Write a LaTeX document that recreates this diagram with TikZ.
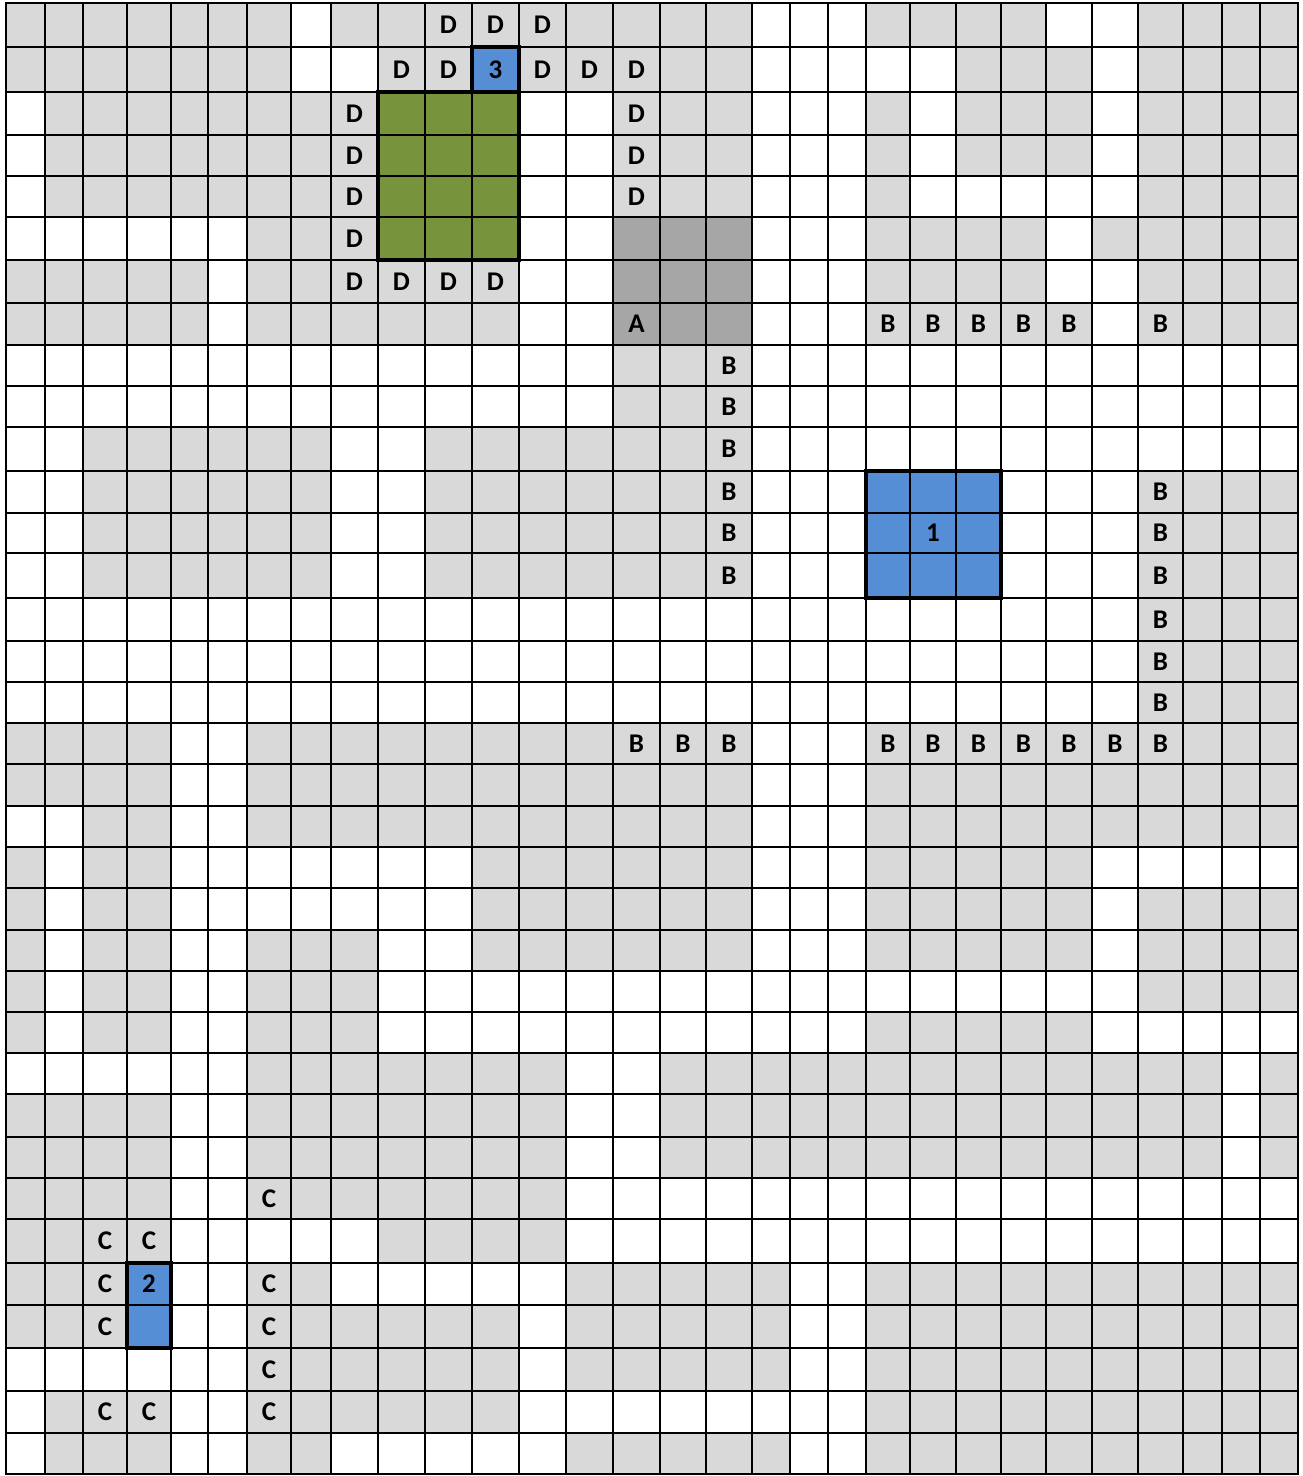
\documentclass[tikz,border=0pt]{standalone}
\usepackage{fontspec}
\setmainfont{Carlito}
\definecolor{cellgray}{HTML}{D9D9D9}
\definecolor{celldark}{HTML}{A6A6A6}
\definecolor{cellblue}{HTML}{558ED5}
\definecolor{cellgreen}{HTML}{77933C}
\def\colx{{6,45,83,127,171,208,247,291,331,378,425,472,519,566,613,660,706,752,790,828,866,910,956,1001,1046,1092,1138,1183,1222,1260,1298}}
\def\rowy{{3,47,92,135,176,217,260,303,345,386,427,471,513,553,598,641,682,723,764,806,847,888,930,971,1012,1053,1094,1137,1178,1219,1263,1305,1348,1391,1433,1474}}
\newcommand\gridrow[2]{\pgfmathtruncatemacro\rowidx{#1}\pgfmathtruncatemacro\rowidxb{#1+1}%
  \pgfmathsetmacro\ya{\rowy[\rowidx]}\pgfmathsetmacro\yb{\rowy[\rowidxb]}%
  \def\colidx{0}\parsecells#2\relax}
\def\parsecells#1{\ifx#1\relax\else\fillcell#1\pgfmathtruncatemacro\colidx{\colidx+1}\expandafter\parsecells\fi}
\def\fillcell#1{%
  \pgfmathtruncatemacro\colidxb{\colidx+1}%
  \pgfmathsetmacro\xa{\colx[\colidx]}%
  \pgfmathsetmacro\xb{\colx[\colidxb]}%
  \ifx#1G\fill[cellgray] (\xa,\ya) rectangle (\xb,\yb);\fi
  \ifx#1K\fill[celldark] (\xa,\ya) rectangle (\xb,\yb);\fi
  \ifx#1B\fill[cellblue] (\xa,\ya) rectangle (\xb,\yb);\fi
  \ifx#1N\fill[cellgreen] (\xa,\ya) rectangle (\xb,\yb);\fi
}
\newcommand\lab[4]{%
  \pgfmathtruncatemacro\lci{#3}%
  \pgfmathtruncatemacro\lcj{#3+1}%
  \pgfmathtruncatemacro\lri{#2}%
  \pgfmathtruncatemacro\lrj{#2+1}%
  \pgfmathsetmacro\la{\colx[\lci]}%
  \pgfmathsetmacro\lb{\colx[\lcj]}%
  \pgfmathsetmacro\lc{\rowy[\lri]}%
  \pgfmathsetmacro\ld{\rowy[\lrj]}%
  \pgfmathsetmacro\lx{(\la+\lb)/2}%
  \pgfmathsetmacro\ly{(\lc+\ld)/2}%
  \node[lbl] (#1) at (\lx,\ly) {#4};}
\tikzset{
  lbl/.style={inner sep=0pt, font=\fontsize{27}{32}\selectfont\bfseries},
  gridline/.style={line width=2pt, black},
  thickbox/.style={line width=3.4pt, black},
  outerbox/.style={line width=2.8pt, black}
}
\begin{document}
\begin{tikzpicture}[x=1pt,y=-1pt]
\useasboundingbox (0,0) rectangle (1302,1476);
\fill[white] (0,0) rectangle (1302,1476);
\gridrow{0}{GGGGGGGWGGGGGGGGGWWWGGGGWWGGGG}
\gridrow{1}{GGGGGGGWWGGBGGGGGWWWWWGGGWGGGG}
\gridrow{2}{WGGGGGGGGNNNWWGGGWWWGWGGGWGGGG}
\gridrow{3}{WGGGGGGGGNNNWWGGGWWWGWGGGWGGGG}
\gridrow{4}{WGGGGGGGGNNNWWGGGWWWGWWWWWGGGG}
\gridrow{5}{WWWWWWGGGNNNWWKKKWWWGGGGWGGGGG}
\gridrow{6}{GGGGGWGGGGGGWWKKKWWWGGGGWWGGGG}
\gridrow{7}{GGGGGWGGGGGGWWKKKWWWGGGGGWGGGG}
\gridrow{8}{WWWWWWWWWWWWWWGGGWWWWWWWWWWWWW}
\gridrow{9}{WWWWWWWWWWWWWWGGGWWWWWWWWWWWWW}
\gridrow{10}{WWGGGGGGWWGGGGGGGWWWWWWWWWWWWW}
\gridrow{11}{WWGGGGGGWWGGGGGGGWWWBBBWWWGGGG}
\gridrow{12}{WWGGGGGGWWGGGGGGGWWWBBBWWWGGGG}
\gridrow{13}{WWGGGGGGWWGGGGGGGWWWBBBWWWGGGG}
\gridrow{14}{WWWWWWWWWWWWWWWWWWWWWWWWWWGGGG}
\gridrow{15}{WWWWWWWWWWWWWWWWWWWWWWWWWWGGGG}
\gridrow{16}{WWWWWWWWWWWWWWWWWWWWWWWWWWGGGG}
\gridrow{17}{GGGGWWGGGGGGGGGGGWWWGGGGGGGGGG}
\gridrow{18}{GGGGWWGGGGGGGGGGGWWWGGGGGGGGGG}
\gridrow{19}{WWGGWWGGGGGGGGGGGWWWGGGGGGGGGG}
\gridrow{20}{GWGGWWWWWWWGGGGGGWWWGGGGGWWWWW}
\gridrow{21}{GWGGWWWWWWWGGGGGGWWWGGGGGWGGGG}
\gridrow{22}{GWGGWWGGGWWGGGGGGWWWGGGGGWGGGG}
\gridrow{23}{GWGGWWGGGWWWWWWWWWWWWWWWWWGGGG}
\gridrow{24}{GWGGWWGGGWWWWWWWWWWWGGGGGWWWWW}
\gridrow{25}{WWWWWWGGGGGGGWWGGGGGGGGGGGGGWG}
\gridrow{26}{GGGGWWGGGGGGGWWGGGGGGGGGGGGGWG}
\gridrow{27}{GGGGWWGGGGGGGWWGGGGGGGGGGGGGWG}
\gridrow{28}{GGGGWWGGGGGGGWWWWWWWWWWWWWWWWW}
\gridrow{29}{GGGGWWWWWGGGGWWWWWWWWWWWWWWWWW}
\gridrow{30}{GGGBWWGGWWWWWGGGGGWWGGGGGGGGGG}
\gridrow{31}{GGGBWWGGGGGGWGGGGGWWGGGGGGGGGG}
\gridrow{32}{WWWWWWGGGGGGWGGGGGWWGGGGGGGGGG}
\gridrow{33}{WGGGWWGGGGGGWWWWWWWWGGGGGGGGGG}
\gridrow{34}{WGGGWWGGWWWWWGGGGGWWGGGGGGGGGG}
% grid lines
\foreach \i in {0,...,30}{%
  \pgfmathsetmacro\gx{\colx[\i]}%
  \draw[gridline] (\gx,3) -- (\gx,1474);}
\foreach \r in {0,...,35}{%
  \pgfmathsetmacro\gy{\rowy[\r]}%
  \draw[gridline] (6,\gy) -- (1298,\gy);}
% thick borders
\draw[thickbox] (378,92) rectangle (519,260);
\draw[thickbox] (472,47) rectangle (519,92);
\draw[thickbox] (866,471) rectangle (1001,598);
\draw[thickbox] (127,1263) rectangle (171,1348);
\draw[outerbox] (6,3) rectangle (1298,1474);
% labels D
\lab{d1}{0}{10}{D}\lab{d2}{0}{11}{D}\lab{d3}{0}{12}{D}
\lab{d4}{1}{9}{D}\lab{d5}{1}{10}{D}\lab{n3}{1}{11}{3}\lab{d6}{1}{12}{D}\lab{d7}{1}{13}{D}\lab{d8}{1}{14}{D}
\lab{d9}{2}{8}{D}\lab{d10}{3}{8}{D}\lab{d11}{4}{8}{D}\lab{d12}{5}{8}{D}
\lab{d13}{2}{14}{D}\lab{d14}{3}{14}{D}\lab{d15}{4}{14}{D}
\lab{d16}{6}{8}{D}\lab{d17}{6}{9}{D}\lab{d18}{6}{10}{D}\lab{d19}{6}{11}{D}
% A and B
\lab{a1}{7}{14}{A}
\lab{b1}{7}{20}{B}\lab{b2}{7}{21}{B}\lab{b3}{7}{22}{B}\lab{b4}{7}{23}{B}\lab{b5}{7}{24}{B}\lab{b6}{7}{26}{B}
\lab{b7}{8}{16}{B}\lab{b8}{9}{16}{B}\lab{b9}{10}{16}{B}\lab{b10}{11}{16}{B}\lab{b11}{12}{16}{B}\lab{b12}{13}{16}{B}
\lab{b13}{11}{26}{B}\lab{b14}{12}{26}{B}\lab{b15}{13}{26}{B}\lab{b16}{14}{26}{B}\lab{b17}{15}{26}{B}\lab{b18}{16}{26}{B}
\lab{b19}{17}{14}{B}\lab{b20}{17}{15}{B}\lab{b21}{17}{16}{B}
\lab{b22}{17}{20}{B}\lab{b23}{17}{21}{B}\lab{b24}{17}{22}{B}\lab{b25}{17}{23}{B}\lab{b26}{17}{24}{B}\lab{b27}{17}{25}{B}\lab{b28}{17}{26}{B}
\lab{n1}{12}{21}{1}
% C
\lab{c1}{28}{6}{C}
\lab{c2}{29}{2}{C}\lab{c3}{29}{3}{C}
\lab{c4}{30}{2}{C}\lab{n2}{30}{3}{2}\lab{c5}{30}{6}{C}
\lab{c6}{31}{2}{C}\lab{c7}{31}{6}{C}
\lab{c8}{32}{6}{C}
\lab{c9}{33}{2}{C}\lab{c10}{33}{3}{C}\lab{c11}{33}{6}{C}
\end{tikzpicture}
\end{document}
